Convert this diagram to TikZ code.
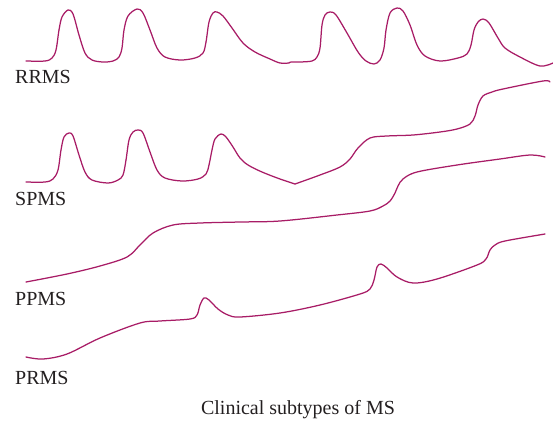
\documentclass[tikz,border=0pt]{standalone}
\usepackage{fontspec}
\setmainfont{Liberation Serif}
\definecolor{curvecol}{RGB}{168,28,102}
\definecolor{txtcol}{RGB}{35,31,32}
\begin{document}
\begin{tikzpicture}[x=1pt,y=-1pt,
  course/.style={draw=curvecol,line width=1.25pt,line join=round,line cap=round},
  lbl/.style={anchor=base west,inner sep=0pt,text=txtcol,font=\fontsize{20}{24}\selectfont}]
\useasboundingbox (0,0) rectangle (553,423);
% RRMS
\draw[course] plot[smooth,tension=0.55] coordinates {(26,61) (45,61) (52,58) (56,50) (59,30) (62,17) (68,10) (73,14) (79,35) (85,53) (92,60) (103,62) (113,61) (119,57) (122,48) (124,30) (128,16) (137,9) (143,13) (150,30) (157,48) (165,57) (180,60) (195,58) (203,53) (206,42) (209,22) (213,13) (217,12) (223,16) (232,28) (243,43) (255,52) (270,59) (280,63) (289,63)};
\draw[course] plot[smooth,tension=0.55] coordinates {(289,63) (291,62) (300,62) (312,61) (317,57) (320,48) (322,25) (325,15) (330,12) (336,15) (347,33) (358,52) (366,61) (374,64) (380,60) (384,48) (386,30) (390,13) (397,8) (403,11) (410,25) (417,45) (425,56) (440,61) (458,58) (467,54) (471,45) (474,30) (478,22) (483,19) (489,23) (498,38) (505,48) (520,57) (540,66) (553,63)};
% SPMS
\draw[course] plot[smooth,tension=0.55] coordinates {(26,182) (45,182) (53,179) (58,170) (61,150) (64,137) (69,133) (73,136) (79,155) (85,172) (92,180) (108,183) (118,180) (123,175) (126,160) (129,140) (133,132) (138,130) (143,133) (150,152) (157,170) (165,178) (182,181) (198,179) (206,174) (209,165) (212,150) (215,139) (221,134) (226,137) (233,147) (240,158) (248,165) (262,172) (280,179) (295,184)};
\draw[course] plot[smooth,tension=0.55] coordinates {(295,184) (320,175) (340,167) (350,159) (358,148) (370,138) (387,136) (413,135) (440,132) (457,129) (470,124) (475,116) (478,105) (483,96) (492,92) (503,89) (543,81) (550,82)};
% PPMS
\draw[course] plot[smooth,tension=0.55] coordinates {(26,282) (67,274) (100,266) (127,257) (140,245) (153,233) (173,225) (200,223) (240,222) (280,221) (337,215) (370,211) (383,206) (390,201) (395,193) (398,186) (403,179) (417,172) (457,165) (500,159) (530,155) (545,157)};
% PRMS
\draw[course] plot[smooth,tension=0.55] coordinates {(26,357) (43,359) (67,354) (100,338) (140,323) (160,321) (190,319) (197,315) (200,305) (204,298) (209,300) (218,309) (228,315) (240,317) (280,313) (320,305) (360,294) (370,289) (374,280) (377,267) (381,264) (387,268) (397,277) (413,283) (437,279) (477,265) (486,259) (490,250) (495,245) (505,241) (545,234)};
% labels
\node[lbl] (rr) at (15,83) {RRMS};
\node[lbl] (sp) at (15,205) {SPMS};
\node[lbl] (pp) at (15,305) {PPMS};
\node[lbl] (pr) at (15,384) {PRMS};
\node[lbl,anchor=base] (cap) at (298,414) {Clinical subtypes of MS};
\end{tikzpicture}
\end{document}
